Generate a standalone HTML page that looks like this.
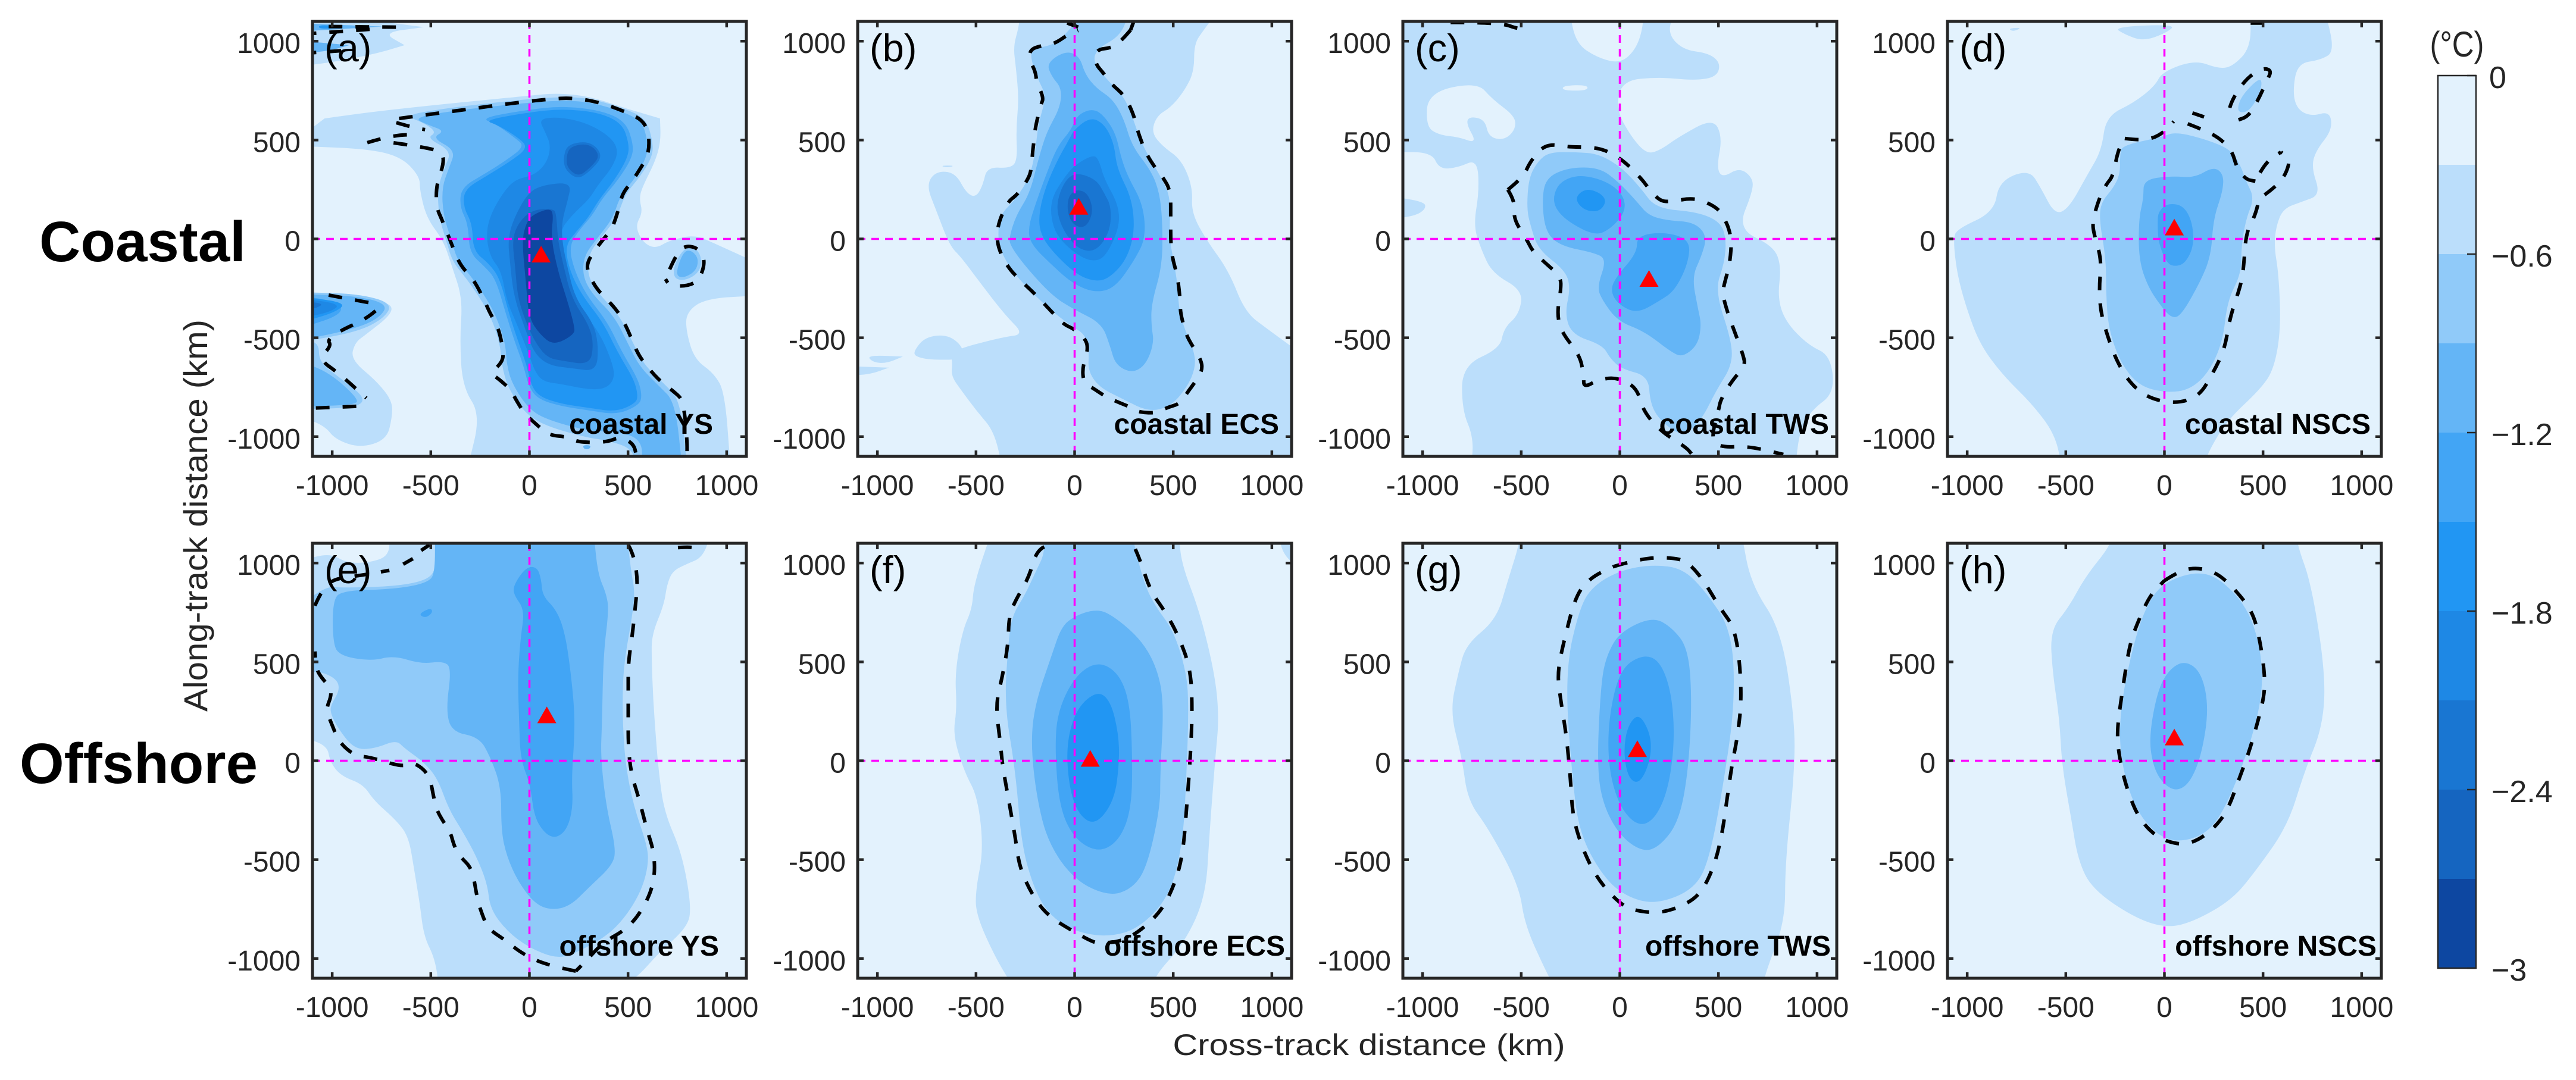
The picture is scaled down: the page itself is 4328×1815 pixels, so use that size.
<!DOCTYPE html>
<html lang="en">
<head>
<meta charset="utf-8">
<title>SST anomaly composites: coastal and offshore</title>
<style>
html,body{margin:0;padding:0;background:#fff;}
svg{display:block;font-family:"Liberation Sans",Arial,sans-serif;}
.tick{font-size:48px;fill:#262626;}
.bar-tick{font-size:52px;fill:#262626;}
.letter{font-size:65px;fill:#000;}
.region{font-size:48px;font-weight:bold;fill:#000;text-anchor:end;}
.row{font-size:96px;font-weight:bold;fill:#000;}
</style>
</head>
<body>
<svg id="chart" xmlns="http://www.w3.org/2000/svg" width="4328" height="1815" viewBox="0 0 4328 1815">
<rect x="0" y="0" width="4328" height="1815" fill="#ffffff"/>
<defs id="clips"></defs>
<g id="plots"></g>
<g id="colorbar"></g>

<text class="row" x="66" y="439">Coastal</text>
<text class="row" x="33" y="1316">Offshore</text>
<text transform="translate(348,866.5) rotate(-90)" text-anchor="middle" font-size="56" fill="#262626" textLength="659" lengthAdjust="spacingAndGlyphs">Along-track distance (km)</text>
<text x="2300" y="1773" text-anchor="middle" font-size="50" fill="#262626" textLength="659" lengthAdjust="spacingAndGlyphs">Cross-track distance (km)</text>
<text x="4128" y="95" text-anchor="middle" font-size="60" fill="#262626" textLength="91" lengthAdjust="spacingAndGlyphs">(°C)</text>

<text class="letter" x="545" y="103">(a)</text>
<text class="letter" x="1461" y="103">(b)</text>
<text class="letter" x="2377" y="103">(c)</text>
<text class="letter" x="3292" y="103">(d)</text>
<text class="letter" x="545" y="980">(e)</text>
<text class="letter" x="1461" y="980">(f)</text>
<text class="letter" x="2377" y="980">(g)</text>
<text class="letter" x="3292" y="980">(h)</text>

<text class="region" x="1198" y="729">coastal YS</text>
<text class="region" x="2149" y="729">coastal ECS</text>
<text class="region" x="3073" y="729">coastal TWS</text>
<text class="region" x="3983" y="729">coastal NSCS</text>
<text class="region" x="1208" y="1606">offshore YS</text>
<text class="region" x="2159" y="1606">offshore ECS</text>
<text class="region" x="3076" y="1606">offshore TWS</text>
<text class="region" x="3993" y="1606">offshore NSCS</text>
</svg>

<script>
// ---------- data ----------
const axisTicks = [-1000, -500, 0, 500, 1000];
const axisTickLabels = ['-1000', '-500', '0', '500', '1000'];
const bandColors = ['#E3F2FD','#BBDEFB','#90CAF9','#64B5F6','#42A5F5','#2196F3','#1E88E5','#1976D2','#1565C0','#0D47A1'];
const colorbarEdges = [0,-0.3,-0.6,-0.9,-1.2,-1.5,-1.8,-2.1,-2.4,-2.7,-3];
const colorbarTicks = [0,-0.6,-1.2,-1.8,-2.4,-3];
const colorbarTickLabels = ['0','\u22120.6','\u22121.2','\u22121.8','\u22122.4','\u22123'];
const panelKeys = ['a','b','c','d','e','f','g','h'];
const markerX = [59,21,148,50,88,79,89,50];
const markerY = [-77,165,-200,60,232,12,61,120];

// Each band: [level index, outline in km (cross-track, along-track)]
const bandsA = [
[1,[[-1150,525],[-1039,609],[-1039,609],[-787,644],[-395,686],[-3,724],[137,738],[305,721],[473,665],[662,609],[662,609],[666,497],[641,399],[571,259],[557,203],[574,133],[536,63],[578,-21],[641,-49],[711,-7],[837,21],[935,-21],[1150,-119],[1150,-287],[893,-301],[795,-371],[795,-469],[837,-609],[935,-679],[991,-777],[1019,-1150],[-311,-1150],[-248,-889],[-339,-749],[-353,-511],[-339,-301],[-395,-133],[-437,-7],[-521,105],[-556,245],[-556,315],[-647,413],[-815,455],[-1150,469]]],
[1,[[-1150,-280],[-815,-308],[-696,-329],[-703,-385],[-829,-483],[-885,-525],[-906,-609],[-773,-721],[-696,-819],[-696,-903],[-724,-1015],[-857,-1057],[-983,-1015],[-1039,-945],[-1150,-903]]],
[1,[[-1150,1150],[-535,1071],[-535,1071],[-745,1043],[-633,980],[-633,980],[-773,938],[-983,896],[-1150,875]]],
[2,[[-640,625],[-395,665],[-3,708],[165,718],[305,712],[480,660],[590,610],[625,497],[625,420],[565,320],[485,225],[445,110],[370,15],[300,-75],[295,-185],[345,-270],[455,-385],[525,-525],[580,-635],[680,-730],[765,-815],[800,-1150],[540,-1150],[520,-1060],[400,-1020],[290,-1005],[80,-945],[-25,-880],[-110,-750],[-140,-640],[-150,-525],[-195,-395],[-250,-300],[-320,-200],[-390,-115],[-420,-15],[-460,115],[-465,260],[-430,360],[-395,445],[-520,510],[-470,540],[-540,590]]],
[2,[[-1150,-270],[-870,-277],[-695,-325],[-735,-400],[-870,-470],[-1150,-520]]],
[2,[[-1150,-511],[-1067,-525],[-1067,-623],[-955,-707],[-829,-805],[-878,-854],[-1150,-861]]],
[2,[[790,-40],[850,-50],[875,-105],[860,-170],[790,-212],[730,-200],[735,-125]]],
[2,[[235,-1150],[284,-1071],[333,-1150]]],
[3,[[-591,612],[-395,648],[-3,690],[165,700],[305,693],[473,644],[571,595],[599,497],[599,427],[543,315],[459,217],[424,105],[347,7],[277,-84],[270,-189],[319,-280],[431,-392],[501,-532],[557,-644],[655,-742],[739,-826],[774,-1150],[571,-1150],[571,-1015],[445,-973],[305,-973],[95,-917],[-3,-861],[-87,-735],[-115,-637],[-122,-525],[-171,-385],[-227,-287],[-297,-189],[-367,-105],[-395,-7],[-437,119],[-444,259],[-409,357],[-374,448],[-493,511],[-430,546],[-507,574]]],
[3,[[-1150,-280],[-885,-287],[-717,-329],[-759,-399],[-885,-455],[-1150,-511]]],
[3,[[-1150,-623],[-1011,-679],[-871,-805],[-878,-840],[-1150,-847]]],
[3,[[788,-56],[830,-63],[858,-105],[844,-161],[788,-196],[746,-189],[753,-133]]],
[3,[[-1150,1001],[-913,980],[-913,980],[-1011,952],[-1150,938]]],
[3,[[-1150,1090],[-745,1074],[-745,1074],[-1150,1050]]],
[3,[[270,-1043],[312,-1043],[305,-1064],[277,-1064]]],
[4,[[-248,612],[-3,654],[165,672],[361,651],[487,595],[526,483],[522,413],[452,301],[368,203],[319,119],[256,49],[200,-35],[228,-161],[291,-287],[396,-420],[466,-567],[550,-707],[571,-791],[557,-840],[445,-889],[305,-868],[165,-847],[46,-812],[-3,-749],[-31,-637],[-73,-525],[-122,-371],[-171,-203],[-227,-140],[-304,-70],[-311,77],[-353,161],[-346,259],[-227,329],[-115,399],[-24,469],[-73,511],[-171,581]]],
[4,[[-1150,-287],[-955,-322],[-955,-385],[-1150,-448]]],
[5,[[-230,600],[-3,640],[165,658],[350,640],[470,585],[505,483],[500,413],[430,295],[350,195],[300,110],[240,40],[180,-35],[205,-165],[270,-290],[375,-425],[445,-570],[530,-710],[550,-790],[540,-830],[440,-875],[305,-855],[165,-835],[55,-800],[10,-745],[-15,-635],[-55,-525],[-105,-375],[-150,-200],[-205,-125],[-285,-60],[-290,77],[-335,161],[-330,250],[-215,320],[-100,390],[-5,462],[-60,515],[-160,575]]],
[5,[[-1150,-294],[-927,-322],[-983,-371],[-1150,-420]]],
[5,[[-1067,1085],[-927,1071],[-1067,1060]]],
[6,[[46,609],[165,616],[305,581],[417,511],[452,441],[417,357],[347,273],[305,203],[214,119],[151,35],[172,-105],[200,-231],[263,-357],[361,-483],[424,-637],[431,-707],[389,-756],[305,-763],[165,-735],[67,-721],[25,-665],[-3,-581],[-59,-441],[-115,-315],[-143,-161],[-199,-91],[-220,21],[-199,119],[-136,231],[-73,301],[25,322],[88,385],[109,469],[81,539]]],
[6,[[-1150,-301],[-955,-329],[-1011,-371],[-1150,-399]]],
[7,[[67,273],[214,287],[193,189],[165,91],[165,-7],[190,-133],[232,-301],[325,-427],[350,-539],[340,-670],[221,-655],[100,-640],[25,-580],[-20,-460],[-80,-290],[-100,-105],[-108,-7],[-85,91],[-10,231]]],
[7,[[195,480],[310,495],[375,420],[310,345],[245,300],[180,350],[172,415]]],
[7,[[-1150,-315],[-1025,-329],[-1150,-371]]],
[8,[[-59,77],[11,147],[123,154],[137,119],[144,-7],[172,-133],[214,-301],[305,-441],[326,-539],[305,-637],[165,-616],[95,-602],[39,-539],[-10,-441],[-59,-301],[-73,-133],[-87,-7]]],
[8,[[207,469],[305,483],[361,420],[305,357],[249,315],[193,357],[186,413]]],
[9,[[11,119],[95,154],[123,133],[109,7],[144,-161],[193,-315],[228,-441],[228,-483],[123,-539],[53,-483],[-3,-399],[-17,-231],[-38,-7],[-17,77]]]
];
const dashA = [
[[-661,609],[-507,630],[-325,654],[-115,683],[95,707],[221,714],[361,690],[501,637],[571,602],[606,539],[606,427],[550,336],[522,294],[473,231],[459,175],[438,105],[417,49],[347,-35],[291,-119],[298,-175],[340,-252],[389,-301],[452,-371],[494,-448],[543,-567],[578,-623],[655,-714],[739,-777],[781,-819],[802,-1043],[795,-1150]],
[[-689,486],[-486,458],[-437,427],[-437,371],[-472,273],[-472,161],[-444,98],[-402,-7],[-353,-133],[-283,-203],[-220,-329],[-199,-378],[-157,-448],[-129,-581],[-143,-630],[-199,-679],[-157,-707],[-94,-763],[-73,-805],[-31,-875],[11,-917],[67,-966],[109,-994],[193,-1001],[249,-1029],[389,-1029],[459,-1001],[529,-1036],[543,-1100]],
[[-822,487],[-696,525],[-556,528]],
[[-675,588],[-578,560],[-529,553]],
[[-1018,1074],[-675,1071]],
[[-1150,1036],[-941,1050],[-759,1064]],
[[-1150,938],[-955,952]],
[[-1018,-284],[-815,-322]],
[[-780,-364],[-829,-406],[-955,-462],[-1025,-511],[-1004,-539],[-1067,-609],[-967,-679],[-827,-805]],
[[-878,-847],[-1150,-858]],
[[711,-154],[739,-91],[781,-35],[851,-42],[893,-105],[865,-203],[809,-238],[711,-238],[690,-203]]
];

const bandsB = [
[1,[[-276,1150],[725,1150],[655,1057],[606,987],[606,847],[557,749],[487,665],[417,623],[389,539],[445,469],[543,399],[599,259],[592,133],[669,-7],[781,-161],[865,-371],[977,-455],[1150,-581],[1150,-1150],[-367,-1150],[-409,-973],[-493,-875],[-577,-763],[-626,-693],[-619,-623],[-633,-567],[-367,-497],[-255,-483],[-353,-385],[-493,-203],[-577,-91],[-633,-35],[-703,147],[-752,273],[-703,343],[-605,336],[-549,231],[-500,210],[-465,273],[-444,364],[-325,357],[-290,399],[-297,553],[-283,707],[-297,861],[-311,973],[-283,1071]]],
[1,[[-815,-567],[-759,-497],[-647,-483],[-570,-540],[-560,-610],[-731,-612],[-808,-595]]],
[1,[[-1150,-644],[-941,-651],[-941,-651],[-1039,-686],[-1150,-690]]],
[1,[[-1053,-588],[-871,-595],[-871,-595],[-955,-630],[-1025,-623]]],
[1,[[-682,371],[-605,371],[-647,360]]],
[2,[[-220,959],[-87,987],[-31,1057],[67,1150],[277,1150],[235,1029],[109,959],[95,889],[165,805],[249,721],[291,623],[319,539],[361,441],[445,301],[487,203],[480,7],[501,-105],[522,-231],[529,-357],[557,-455],[606,-567],[613,-651],[571,-749],[487,-847],[375,-875],[235,-805],[123,-749],[67,-665],[74,-567],[53,-483],[-17,-441],[-143,-343],[-311,-175],[-381,-49],[-388,21],[-381,119],[-297,203],[-227,315],[-199,441],[-185,581],[-143,721],[-185,805],[-220,903]]],
[3,[[-143,889],[-45,952],[25,924],[53,833],[109,763],[193,707],[249,609],[291,469],[389,343],[431,231],[445,91],[445,-133],[389,-329],[389,-441],[403,-525],[361,-637],[291,-679],[207,-637],[179,-539],[137,-427],[-3,-357],[-115,-287],[-255,-133],[-325,-35],[-332,7],[-297,119],[-227,231],[-185,399],[-143,539],[-73,665],[-66,763],[-115,819]]],
[4,[[11,623],[81,658],[137,637],[207,539],[235,413],[270,315],[347,175],[361,7],[305,-105],[207,-245],[109,-273],[-3,-231],[-115,-133],[-227,-21],[-234,63],[-199,175],[-143,329],[-87,469],[-17,553]]],
[5,[[-3,553],[81,616],[151,581],[200,483],[214,357],[291,203],[305,35],[263,-105],[179,-196],[109,-217],[11,-182],[-115,-63],[-179,35],[-179,147],[-143,273],[-87,399],[-31,497]]],
[6,[[-3,371],[95,427],[123,399],[151,301],[221,175],[228,63],[165,-77],[109,-116],[25,-91],[-87,7],[-122,112],[-115,210],[-59,301]]],
[7,[[11,336],[109,301],[151,231],[186,161],[179,35],[109,-63],[25,-56],[-45,21],[-87,119],[-87,203],[-45,301]]],
[8,[[11,252],[67,231],[95,147],[67,70],[25,56],[-17,84],[-38,147],[-31,217]]]
];
const dashB = [
[[284,1057],[249,1015],[193,966],[109,959],[102,889],[151,833],[186,784],[249,728],[277,679],[305,609],[319,546],[361,434],[410,357],[445,315],[487,245],[487,91],[487,-7],[494,-91],[522,-189],[536,-315],[536,-371],[557,-455],[578,-511],[641,-609],[648,-665],[613,-721],[571,-777],[536,-833],[466,-854],[410,-882],[319,-875],[291,-854],[221,-826],[158,-798],[95,-756],[46,-728],[39,-651],[67,-567],[60,-511],[-3,-455],[-52,-434],[-101,-385],[-199,-280],[-297,-189],[-339,-140],[-374,-77],[-395,-7],[-388,77],[-339,189],[-290,224],[-241,294],[-220,343],[-213,441],[-206,497],[-199,567],[-171,679],[-157,714],[-192,791],[-199,847],[-227,903],[-227,959],[-157,980],[-101,987],[-31,1036],[18,1054]],
[[-38,1092],[18,1071]],
[[284,1057],[298,1095]]
];

const bandsC = [
[1,[[-1150,1150],[1150,1150],[1150,-1150],[-1150,-1150]]],
[0,[[-256,1150],[125,1150],[106,1017],[58,931],[-10,888],[-125,922],[-222,991]]],
[0,[[279,1150],[241,1043],[318,957],[453,939],[511,888],[491,819],[376,801],[202,819],[10,801],[-19,655],[58,516],[135,430],[202,447],[299,516],[472,611],[520,516],[491,361],[520,309],[607,361],[674,309],[674,240],[597,50],[780,-36],[819,-140],[800,-295],[838,-416],[954,-537],[1069,-589],[1089,-779],[973,-865],[915,-969],[896,-1090],[896,-1150],[1150,-1150],[1150,1150]]],
[0,[[-1150,439],[-954,439],[-915,352],[-819,361],[-723,404],[-713,240],[-742,67],[-703,-54],[-646,-174],[-491,-261],[-511,-382],[-588,-451],[-607,-554],[-800,-641],[-800,-865],[-742,-1003],[-752,-1150],[-1150,-1150]]],
[1,[[-1150,214],[-992,188],[-983,154],[-1031,119],[-1150,100]]],
[0,[[-973,741],[-723,793],[-646,706],[-530,620],[-530,551],[-588,499],[-665,516],[-684,603],[-761,620],[-780,585],[-723,482],[-819,516],[-915,525],[-983,568]]],
[0,[[-289,775],[-164,779],[-164,750],[-289,750]]],
[2,[[-356,439],[-222,439],[-106,430],[10,361],[106,257],[183,154],[395,136],[511,85],[540,-2],[530,-123],[482,-261],[568,-520],[568,-641],[491,-762],[414,-917],[318,-1003],[202,-917],[154,-831],[145,-693],[10,-658],[-48,-606],[-87,-537],[-241,-485],[-279,-382],[-250,-244],[-279,-157],[-414,-54],[-453,67],[-472,154],[-462,309],[-414,395]]],
[3,[[-395,188],[-376,309],[-260,361],[-106,361],[-10,292],[87,188],[145,119],[241,93],[376,85],[443,16],[414,-88],[366,-192],[395,-347],[414,-433],[395,-537],[318,-598],[260,-572],[125,-468],[-10,-416],[-87,-313],[-116,-244],[-67,-105],[-125,-71],[-299,-36],[-376,33]]],
[4,[[-337,223],[-299,292],[-202,326],[-67,292],[19,223],[29,136],[-48,50],[-125,16],[-260,85],[-328,154]]],
[4,[[87,16],[222,36],[356,-2],[347,-123],[279,-261],[202,-313],[87,-378],[-10,-330],[-48,-261],[-19,-192],[87,-71]]],
[5,[[-231,206],[-173,257],[-96,231],[-67,188],[-106,136],[-183,145]]]
];
const dashC = [
[[-568,249],[-491,309],[-453,395],[-376,482],[-260,465],[-183,465],[-87,456],[10,404],[106,309],[145,257],[202,192],[260,188],[376,209],[472,171],[520,128],[568,16],[559,-123],[530,-226],[520,-278],[549,-382],[588,-485],[626,-589],[636,-641],[568,-718],[511,-813],[501,-865],[462,-1012],[511,-1055],[646,-1047],[829,-1090]],
[[-568,249],[-530,188],[-540,102],[-472,-2],[-443,-62],[-376,-123],[-299,-192],[-299,-261],[-318,-373],[-299,-468],[-202,-589],[-183,-693],[-183,-753],[-106,-710],[-10,-701],[87,-753],[116,-865],[202,-969],[337,-1055],[366,-1090]],
[[-858,1095],[-607,1095],[-511,1060],[-462,1069]]
];

const bandsD = [
[1,[[437,1150],[816,1150],[863,948],[792,905],[674,888],[650,741],[674,655],[745,620],[839,646],[851,551],[768,447],[745,361],[792,223],[697,188],[603,154],[567,67],[556,-36],[579,-174],[591,-451],[556,-658],[485,-762],[319,-917],[225,-1072],[200,-1150],[-520,-1150],[-556,-986],[-674,-831],[-816,-693],[-934,-537],[-1005,-347],[-1052,-174],[-1071,-2],[-1052,50],[-863,136],[-839,292],[-686,352],[-626,257],[-556,123],[-485,154],[-390,326],[-319,447],[-296,620],[-154,689],[-47,775],[-12,844],[154,905],[272,862],[343,870],[437,965]]],
[1,[[-260,1072],[59,1086],[12,1043],[-106,1000],[-201,1034]]],
[1,[[-792,1065],[-721,1069],[-768,1048]]],
[2,[[-213,473],[-12,516],[59,542],[225,499],[343,447],[390,361],[414,292],[456,206],[414,102],[390,-36],[390,-174],[319,-313],[296,-520],[225,-675],[130,-762],[12,-779],[-130,-744],[-225,-623],[-284,-451],[-296,-278],[-296,-105],[-331,102],[-319,188],[-260,257],[-225,326],[-225,430]]],
[2,[[390,724],[485,819],[496,776],[461,689],[414,637],[366,645]]],
[3,[[-106,300],[35,318],[154,309],[248,366],[300,328],[296,240],[248,102],[236,-88],[177,-226],[83,-390],[35,-399],[-12,-347],[-83,-244],[-130,-105],[-130,102],[-106,205]]],
[4,[[12,180],[95,171],[142,85],[149,-36],[106,-123],[54,-140],[12,-123],[-31,-19],[-35,85],[-31,136]]]
];
const dashD = [
[[-201,508],[-130,499],[-59,508],[0,542],[47,594]],
[[118,582],[177,560],[272,516],[343,447],[366,361],[414,300],[461,292]],
[[473,171],[461,119],[414,33],[402,-140],[390,-226],[331,-399],[307,-554],[248,-675],[177,-796],[59,-834],[-83,-805],[-177,-727],[-248,-606],[-296,-468],[-324,-364],[-331,-244],[-319,-105],[-355,16],[-366,85],[-331,205],[-296,275],[-260,318],[-236,447],[-201,508]],
[[508,223],[567,266],[615,326],[638,404],[591,439]],
[[485,335],[520,395],[591,439]],
[[331,663],[343,706],[414,810],[496,865],[544,853],[520,801],[473,698],[426,620],[366,599]],
[[142,637],[201,617]],
[[437,1092],[500,1092]]
];

const bandsE = [
[1,[[921,1150],[879,1029],[795,994],[725,959],[697,889],[683,791],[620,637],[620,511],[627,315],[641,119],[655,-49],[683,-259],[774,-469],[823,-749],[795,-847],[655,-973],[543,-1099],[445,-1150],[-458,-1150],[-479,-1001],[-535,-889],[-556,-721],[-584,-553],[-612,-385],[-675,-301],[-787,-203],[-843,-119],[-955,-77],[-1011,-7],[-1025,77],[-1150,119],[-1150,1150]]],
[0,[[-1150,1150],[-710,1150],[-710,1036],[-815,1001],[-927,1001],[-1011,1050],[-1150,1015]]],
[2,[[494,1150],[515,959],[536,847],[515,693],[487,539],[473,399],[473,189],[487,-21],[529,-231],[592,-413],[606,-511],[571,-651],[487,-791],[389,-889],[235,-973],[137,-1001],[-3,-945],[-115,-861],[-199,-749],[-213,-623],[-269,-483],[-339,-357],[-409,-245],[-465,-91],[-535,-7],[-633,63],[-675,105],[-780,63],[-885,56],[-969,161],[-1011,245],[-1004,287],[-962,357],[-976,413],[-1067,455],[-1150,440],[-1150,800],[-1025,882],[-955,875],[-675,882],[-507,917],[-472,987],[-465,1150]]],
[3,[[326,1150],[347,945],[389,847],[403,763],[375,539],[368,189],[361,21],[389,-231],[438,-441],[424,-525],[305,-637],[207,-735],[109,-756],[25,-721],[-59,-609],[-115,-483],[-143,-357],[-143,-133],[-199,21],[-255,119],[-395,147],[-423,259],[-395,469],[-437,504],[-549,490],[-689,532],[-801,504],[-969,532],[-997,609],[-997,805],[-955,861],[-675,868],[-507,903],[-479,959],[-479,1150]]],
[4,[[-17,980],[39,980],[60,917],[67,833],[137,763],[179,651],[207,469],[228,259],[228,119],[214,-91],[221,-231],[193,-343],[137,-392],[81,-371],[25,-287],[4,-119],[-45,7],[-52,189],[-59,427],[-45,623],[-24,763],[-80,840],[-80,889]]],
[4,[[-563,742],[-500,774],[-490,749],[-528,721]]]
];
const dashE = [
[[501,1092],[529,1043],[550,910],[536,770],[522,637],[501,497],[501,357],[501,217],[501,77],[515,-63],[557,-196],[592,-336],[634,-469],[634,-609],[585,-735],[501,-847],[375,-917],[284,-1015],[235,-1064]],
[[235,-1064],[95,-1036],[-31,-980],[-129,-903],[-213,-847],[-255,-735],[-269,-672],[-290,-546],[-353,-483],[-381,-434],[-402,-357],[-437,-308],[-472,-245],[-486,-182],[-500,-105],[-528,-49],[-591,-7],[-633,-28],[-703,-14],[-745,0],[-829,21],[-878,24],[-941,70],[-976,119],[-1004,189],[-1032,259],[-1004,329],[-1011,371],[-1060,427],[-1081,469],[-1088,553]],
[[-1088,784],[-1067,833],[-1011,917],[-850,938],[-710,963]],
[[-640,994],[-591,1022]],
[[-549,1064],[-507,1092]],
[[753,1078],[851,1085],[830,1050]]
];

const bandsF = [
[1,[[-424,1150],[-511,893],[-520,768],[-568,660],[-607,445],[-597,266],[-617,131],[-559,-57],[-491,-183],[-462,-452],[-501,-649],[-501,-775],[-405,-990],[-308,-1150],[405,-1150],[405,-1089],[559,-919],[665,-685],[684,-362],[713,14],[732,212],[713,427],[636,750],[540,1001],[530,1150]]],
[1,[[1031,1150],[1150,1150],[1150,970],[1060,1036]]],
[2,[[-154,1150],[-154,1046],[-193,965],[-251,840],[-318,732],[-337,588],[-356,283],[-299,-57],[-270,-416],[-212,-631],[-135,-775],[0,-865],[173,-892],[328,-847],[482,-685],[549,-416],[568,-57],[578,266],[568,445],[501,660],[405,786],[347,911],[289,1150]]],
[3,[[0,732],[96,764],[173,750],[328,624],[414,481],[453,301],[434,-57],[434,-237],[366,-542],[289,-649],[173,-685],[0,-605],[-135,-416],[-193,-183],[-222,86],[-202,283],[-116,535],[-67,678]]],
[4,[[0,427],[116,504],[222,445],[279,301],[293,32],[289,-237],[231,-398],[125,-466],[0,-398],[-77,-237],[-100,50],[-87,248]]],
[5,[[10,266],[116,355],[183,301],[222,140],[227,-4],[202,-201],[106,-327],[19,-273],[-29,-129],[-42,86]]]
];
const dashF = [
[[-154,1082],[-193,1064],[-231,929],[-299,813],[-333,732],[-337,588],[-366,427],[-401,283],[-376,86],[-366,-22],[-337,-183],[-299,-398],[-279,-542],[-212,-685],[-135,-784],[-19,-856],[96,-919],[135,-922],[230,-915],[328,-865],[443,-757],[511,-614],[549,-470],[568,-237],[588,32],[597,266],[588,463],[530,624],[462,750],[385,858],[337,1001],[299,1091]]
];

const bandsG = [
[1,[[-511,1150],[-511,1091],[-568,911],[-626,714],[-780,588],[-819,445],[-861,248],[-800,14],[-771,-201],[-665,-344],[-511,-631],[-482,-829],[-376,-1062],[-328,-1150],[723,-1150],[742,-1062],[838,-811],[838,-524],[886,-57],[886,212],[819,660],[665,893],[617,1150]]],
[2,[[10,965],[164,992],[318,974],[434,857],[568,660],[584,301],[530,-93],[453,-506],[376,-649],[202,-721],[67,-703],[-67,-613],[-202,-380],[-241,-93],[-279,445],[-202,786],[-125,893]]],
[3,[[0,651],[164,728],[260,678],[347,570],[366,301],[347,-57],[299,-309],[202,-434],[116,-461],[0,-380],[-87,-219],[-116,-22],[-96,391],[-67,534]]],
[4,[[0,463],[116,538],[202,507],[260,355],[279,122],[250,-129],[183,-291],[96,-335],[0,-237],[-58,-39],[-58,212]]],
[5,[[96,242],[154,140],[160,32],[125,-75],[83,-117],[39,-75],[19,50],[39,176]]]
];
const dashG = [
[[-29,983],[106,1024],[260,1028],[337,1010],[414,929],[511,768],[578,678],[607,517],[617,301],[597,122],[568,-22],[540,-219],[520,-362],[482,-524],[414,-668],[328,-731],[202,-772],[67,-757],[0,-721],[-87,-631],[-154,-524],[-212,-380],[-241,-255],[-250,-93],[-270,122],[-299,301],[-318,445],[-279,624],[-222,840],[-145,929],[-29,983]]
];

const bandsH = [
[1,[[-272,1150],[-272,1091],[-402,929],[-485,777],[-579,660],[-567,445],[-532,212],[-520,-22],[-473,-291],[-437,-506],[-366,-649],[-154,-793],[12,-847],[154,-811],[343,-703],[461,-560],[626,-327],[709,-57],[804,176],[816,445],[745,893],[674,1091],[674,1150]]],
[2,[[0,902],[154,956],[272,929],[414,786],[485,588],[501,355],[437,86],[319,-219],[225,-362],[83,-413],[-35,-380],[-154,-237],[-225,14],[-225,265],[-154,606],[-83,803]]],
[3,[[106,508],[189,445],[225,265],[189,32],[130,-111],[59,-156],[-12,-111],[-59,-22],[-78,122],[-35,355],[24,463]]]
];
const dashH = [
[[0,911],[83,965],[177,977],[272,947],[366,858],[449,750],[485,606],[508,445],[508,337],[473,194],[425,32],[378,-93],[319,-255],[248,-345],[165,-405],[83,-427],[-35,-391],[-130,-292],[-189,-147],[-225,-4],[-243,140],[-213,355],[-177,588],[-130,714],[-71,840],[0,911]]
];

const panelBands = [bandsA,bandsB,bandsC,bandsD,bandsE,bandsF,bandsG,bandsH];
const panelDashes = [dashA,dashB,dashC,dashD,dashE,dashF,dashG,dashH];

// ---------- layout & scales ----------
const NS = 'http://www.w3.org/2000/svg';
const columnLeft = [525,1441,2357,3272];
const rowTop = [36,913];
const plotW = 729, plotH = 731, limit = 1100;
const barLeft = 4096, barRight = 4160, barTop = 127, barBottom = 1627;

function xScale(panel, v){ return columnLeft[panel % 4] + (v + limit) / (2 * limit) * plotW; }
function yScale(panel, v){ return rowTop[panel < 4 ? 0 : 1] + (limit - v) / (2 * limit) * plotH; }
function barScale(v){ return barTop + (-v) / 3 * (barBottom - barTop); }
function fx(n){ return n.toFixed(1); }
function isOutside(p){ return Math.abs(p[0]) >= 1140 || Math.abs(p[1]) >= 1140; }

function closedPath(panel, pts){
  const P = pts.map(function(p){ return [xScale(panel,p[0]), yScale(panel,p[1])]; });
  const n = P.length;
  const mid = function(i){ const a = P[i % n], b = P[(i + 1) % n]; return [(a[0]+b[0])/2, (a[1]+b[1])/2]; };
  const m0 = mid(n - 1);
  let d = 'M' + fx(m0[0]) + ' ' + fx(m0[1]);
  for (let i = 0; i < n; i++) {
    const m = mid(i);
    if (isOutside(pts[i])) d += 'L' + fx(P[i][0]) + ' ' + fx(P[i][1]) + 'L' + fx(m[0]) + ' ' + fx(m[1]);
    else d += 'Q' + fx(P[i][0]) + ' ' + fx(P[i][1]) + ' ' + fx(m[0]) + ' ' + fx(m[1]);
  }
  return d + 'Z';
}
function openPath(panel, pts){
  const P = pts.map(function(p){ return [xScale(panel,p[0]), yScale(panel,p[1])]; });
  let d = 'M' + fx(P[0][0]) + ' ' + fx(P[0][1]);
  for (let i = 1; i < P.length - 1; i++) {
    const mx = (P[i][0] + P[i+1][0]) / 2, my = (P[i][1] + P[i+1][1]) / 2;
    d += 'Q' + fx(P[i][0]) + ' ' + fx(P[i][1]) + ' ' + fx(mx) + ' ' + fx(my);
  }
  const last = P[P.length - 1];
  return d + 'L' + fx(last[0]) + ' ' + fx(last[1]);
}
function svgEl(tag, attrs, parent){
  const el = document.createElementNS(NS, tag);
  for (const k in attrs) el.setAttribute(k, attrs[k]);
  parent.appendChild(el);
  return el;
}

// ---------- panels ----------
const plots = document.getElementById('plots');
const clips = document.getElementById('clips');
panelKeys.forEach(function(key, i){
  const left = columnLeft[i % 4], top = rowTop[i < 4 ? 0 : 1];
  const clip = svgEl('clipPath', {id: 'clip-' + key}, clips);
  svgEl('rect', {x: left, y: top, width: plotW, height: plotH}, clip);

  const group = svgEl('g', {}, plots);
  
  

  const plotArea = svgEl('g', {'clip-path': 'url(#clip-' + key + ')'}, group);
  
  

  const bg = svgEl('rect', {x: left, y: top, width: plotW, height: plotH, fill: bandColors[0]}, plotArea);
  
  

  panelBands[i].forEach(function(band){
    const path = svgEl('path', {d: closedPath(i, band[1]), fill: bandColors[band[0]]}, plotArea);
    
    
  });

  panelDashes[i].forEach(function(line){
    const path = svgEl('path', {d: openPath(i, line), fill: 'none', stroke: '#000', 'stroke-width': 6, 'stroke-dasharray': '23 22'}, plotArea);
    
    
  });

  const hLine = svgEl('line', {x1: xScale(i,-limit), x2: xScale(i,limit), y1: yScale(i,0), y2: yScale(i,0), stroke: '#FF00FF', 'stroke-width': 3.5, 'stroke-dasharray': '13 10'}, plotArea);
  
  
  const vLine = svgEl('line', {x1: xScale(i,0), x2: xScale(i,0), y1: yScale(i,limit), y2: yScale(i,-limit), stroke: '#FF00FF', 'stroke-width': 3.5, 'stroke-dasharray': '13 10'}, plotArea);
  
  

  const mx = xScale(i, markerX[i]), my = yScale(i, markerY[i]);
  const marker = svgEl('polygon', {points: fx(mx) + ',' + fx(my - 14) + ' ' + fx(mx + 16) + ',' + fx(my + 14) + ' ' + fx(mx - 16) + ',' + fx(my + 14), fill: '#FF0000'}, plotArea);
  
  

  axisTicks.forEach(function(t, j){
    const tx = xScale(i, t), ty = yScale(i, t), right = left + plotW, bottom = top + plotH;
    [[tx, top, tx, top + 10], [tx, bottom, tx, bottom - 10], [left, ty, left + 10, ty], [right, ty, right - 10, ty]].forEach(function(s){
      const tick = svgEl('line', {x1: s[0], y1: s[1], x2: s[2], y2: s[3], stroke: '#262626', 'stroke-width': 4.5}, group);
      
      
    });
    const xl = svgEl('text', {x: fx(tx), y: bottom + 65, 'class': 'tick', 'text-anchor': 'middle'}, group);
    xl.textContent = axisTickLabels[j];
    
    
    const yl = svgEl('text', {x: left - 20, y: fx(ty + 20), 'class': 'tick', 'text-anchor': 'end'}, group);
    yl.textContent = axisTickLabels[j];
    
    
  });

  const frame = svgEl('rect', {x: left, y: top, width: plotW, height: plotH, fill: 'none', stroke: '#262626', 'stroke-width': 5}, group);
  
  
});

// ---------- colorbar ----------
const bar = document.getElementById('colorbar');
for (let k = 0; k < colorbarEdges.length - 1; k++) {
  const y0 = barScale(colorbarEdges[k]), y1 = barScale(colorbarEdges[k + 1]);
  const seg = svgEl('rect', {x: barLeft, y: y0, width: barRight - barLeft, height: y1 - y0 + 0.5, fill: bandColors[k]}, bar);
  
  
}
const barFrame = svgEl('rect', {x: barLeft, y: barTop, width: barRight - barLeft, height: barBottom - barTop, fill: 'none', stroke: '#262626', 'stroke-width': 2.5}, bar);


colorbarTicks.forEach(function(t, j){
  const y = barScale(t);
  const tick = svgEl('line', {x1: barRight - 15, x2: barRight, y1: y, y2: y, stroke: '#262626', 'stroke-width': 2.5}, bar);
  
  
  const label = svgEl('text', {x: j === 0 ? 4182 : 4186, y: y + 21, 'class': 'bar-tick'}, bar);
  label.textContent = colorbarTickLabels[j];
  
  
});
</script>
</body>
</html>
